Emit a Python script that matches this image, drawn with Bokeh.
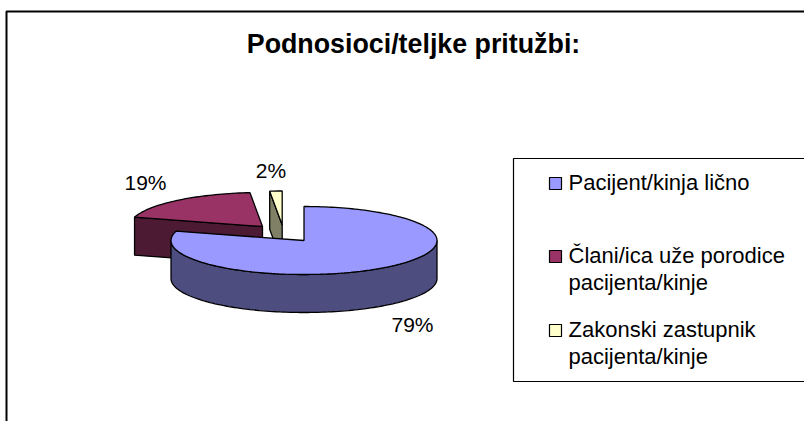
import math
from bokeh.plotting import figure
from bokeh.embed import file_html
from bokeh.resources import INLINE
from bokeh.core.properties import value

title = "Podnosioci/teljke pritužbi:"
shares = [79.4, 19.1, 1.5]
pct_labels = ["79%", "19%", "2%"]
legend_lines = [["Pacijent/kinja lično"],
                ["Člani/ica uže porodice", "pacijenta/kinje"],
                ["Zakonski zastupnik", "pacijenta/kinje"]]
top_colors = ["#9999FF", "#993366", "#FFFFCC"]
side_colors = ["#4D4D80", "#4D1A33", "#808066"]

W, H = 804, 421
p = figure(width=W, height=H, x_range=(0, W), y_range=(H, 0), output_backend="svg",
           toolbar_location=None, min_border=0, outline_line_color=None,
           background_fill_color="white")
p.axis.visible = False
p.grid.visible = False

FONT = "Liberation Sans"
RX, RY, DEPTH = 133.0, 34.0, 38.0
apexes = [(303.5, 240.0), (262.0, 226.0), (281.7, 224.5)]


def pt(a, ang, dz=0.0):
    r = math.radians(ang)
    return a[0] + RX * math.sin(r), a[1] - RY * math.cos(r) + dz


def arc(a, a0, a1, dz=0.0):
    n = max(2, int(abs(a1 - a0) / 1.5))
    return [pt(a, a0 + (a1 - a0) * i / n, dz) for i in range(n + 1)]


def poly(points, color, width=1.3):
    p.patch([q[0] for q in points], [q[1] for q in points], fill_color=color,
            line_color="black", line_width=width)


p.patch([6, 812, 812, 6], [11, 11, 440, 440], fill_color="white", line_color="black", line_width=2)
p.patch([513, 812, 812, 513], [158, 158, 381, 381], fill_color="white", line_color="black", line_width=1.2)

starts, ends, s = [], [], 0.0
for v in shares:
    starts.append(s)
    s += v * 3.6
    ends.append(s)

a = apexes[2]
e0 = pt(a, starts[2])
poly([e0, a, (a[0], a[1] + DEPTH), (e0[0], e0[1] + DEPTH)], side_colors[2])
poly([a] + arc(a, starts[2], ends[2]), top_colors[2])

a = apexes[1]
e0 = pt(a, starts[1])
poly([e0, a, (a[0], a[1] + DEPTH), (e0[0], e0[1] + DEPTH)], side_colors[1])
poly([a] + arc(a, starts[1], ends[1]), top_colors[1])

a = apexes[0]
poly(arc(a, 90, 270) + arc(a, 270, 90, DEPTH), side_colors[0])
poly([a] + arc(a, starts[0], ends[0]), top_colors[0])


def txt(x, y, s, size, style="normal", align="left"):
    p.text([x], [y - 0.36 * size], text=[s], text_font=value(FONT), text_font_size=f"{size}px",
           text_font_style=style, text_color="black", text_align=align, text_baseline="alphabetic")


txt(413, 53, title, 26.8, "bold", "center")
label_pos = [(412, 332), (145, 190), (270.5, 178)]
for (x, y), s in zip(label_pos, pct_labels):
    txt(x, y, s, 21, align="center")

swatch_y = [183, 256, 330]
line_base = [190, 263, 337]
for i, lines in enumerate(legend_lines):
    y0 = swatch_y[i]
    p.patch([549, 561, 561, 549], [y0 - 6, y0 - 6, y0 + 6, y0 + 6], fill_color=top_colors[i],
            line_color="black", line_width=1.2)
    for j, ln in enumerate(lines):
        txt(568, line_base[i] + j * 27, ln, 22)

open("out.html", "w").write(file_html(p, INLINE))
